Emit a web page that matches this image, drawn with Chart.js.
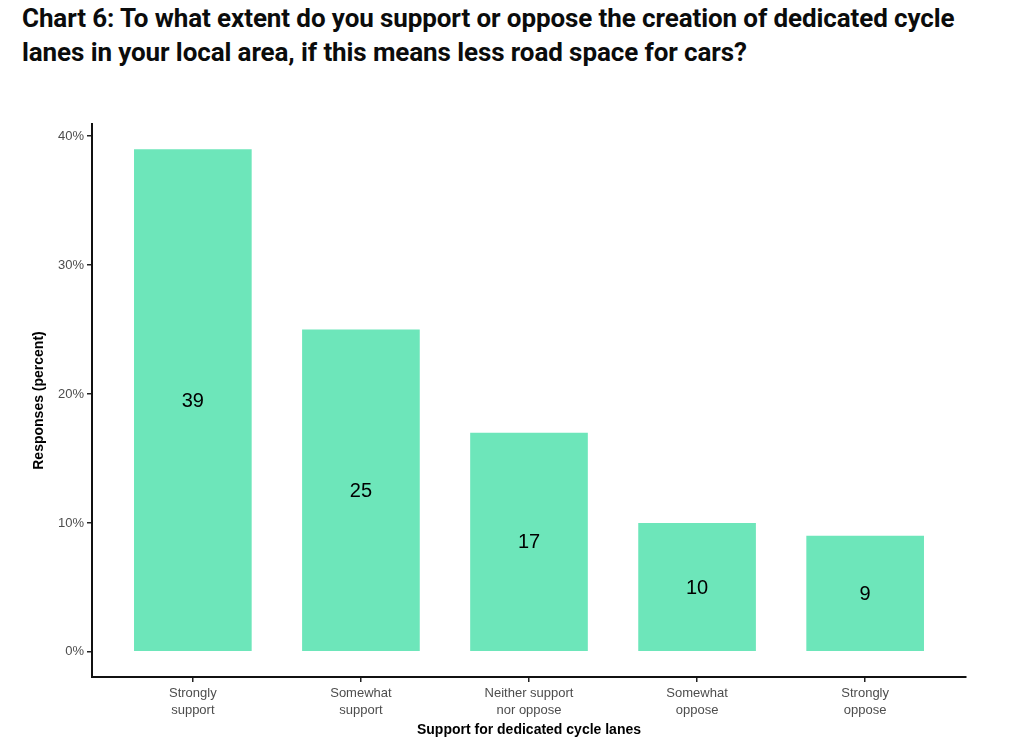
<!DOCTYPE html>
<html>
<head>
<meta charset="utf-8">
<script src="https://cdn.jsdelivr.net/npm/chart.js@4.4.0/dist/chart.umd.min.js"></script>
<style>
  html, body { margin: 0; padding: 0; background: #fff; }
  #wrap { position: relative; width: 1024px; height: 748px; }
  #judul {
    position: absolute; left: 22px; top: 1px; margin: 0;
    font-family: Roboto, sans-serif; font-weight: 700; font-size: 26px;
    line-height: 34px; color: #0b0c0c; letter-spacing: -0.1px;
  }
  canvas { position: absolute; left: 0; top: 0; }
</style>
</head>
<body>
<div id="wrap">
  <h2 id="judul">Chart 6: To what extent do you support or oppose the creation of dedicated cycle<br>lanes in your local area, if this means less road space for cars?</h2>
  <canvas id="chart" width="1024" height="748"></canvas>
</div>
<script>
// Data
const kategori = [
  ['Strongly', 'support'],
  ['Somewhat', 'support'],
  ['Neither support', 'nor oppose'],
  ['Somewhat', 'oppose'],
  ['Strongly', 'oppose']
];
const persen = [39, 25, 17, 10, 9];
const tickY = [0, 10, 20, 30, 40];

const WARNA_BAR = '#6de6ba';
const WARNA_TEKS = '#4d4d4d';
const FONT = '"Liberation Sans", Arial, sans-serif';

// label angka di tengah batang
const labelTengah = {
  id: 'labelTengah',
  afterDatasetsDraw(chart) {
    const ctx = chart.ctx;
    const meta = chart.getDatasetMeta(0);
    ctx.save();
    ctx.font = '20px ' + FONT;
    ctx.fillStyle = '#000';
    ctx.textAlign = 'center';
    ctx.textBaseline = 'middle';
    meta.data.forEach((bar, i) => {
      ctx.fillText(String(persen[i]), bar.x, (bar.y + bar.base) / 2 + 1);
    });
    ctx.restore();
  }
};

new Chart(document.getElementById('chart'), {
  type: 'bar',
  data: {
    datasets: [{
      data: persen.map((v, i) => ({ x: i, y: v })),
      backgroundColor: WARNA_BAR,
      borderWidth: 0,
      barPercentage: 0.7,
      categoryPercentage: 1.0
    }]
  },
  options: {
    responsive: false,
    animation: false,
    layout: { padding: { top: 124, right: 58, left: 0, bottom: 0 } },
    plugins: { legend: { display: false }, tooltip: { enabled: false } },
    scales: {
      x: {
        type: 'linear',
        offset: false,
        min: -0.6,
        max: 4.6,
        afterBuildTicks: s => { s.ticks = kategori.map((_, i) => ({ value: i })); },
        afterFit: s => { s.height = 71; },
        ticks: {
          callback: v => kategori[v],
          color: WARNA_TEKS,
          font: { family: FONT, size: 13, lineHeight: 1.3 },
          padding: 3,
          maxRotation: 0,
          autoSkip: false
        },
        grid: { display: true, offset: false, drawOnChartArea: false, tickLength: 5, color: '#222', lineWidth: 1.5 },
        border: { display: true, color: '#111', width: 2 },
        title: {
          display: true,
          text: 'Support for dedicated cycle lanes',
          color: '#000',
          font: { family: FONT, size: 14, weight: 'bold' },
          padding: 9
        }
      },
      y: {
        min: -1.95,
        max: 40.95,
        afterBuildTicks: s => { s.ticks = tickY.map(v => ({ value: v })); },
        afterFit: s => { s.width = 92; },
        ticks: {
          callback: v => v + '%',
          color: WARNA_TEKS,
          font: { family: FONT, size: 13 },
          padding: 3
        },
        grid: { display: true, drawOnChartArea: false, tickLength: 5, color: '#222', lineWidth: 1.5 },
        border: { display: true, color: '#111', width: 2 },
        title: {
          display: true,
          text: 'Responses (percent)',
          color: '#000',
          font: { family: FONT, size: 14, weight: 'bold' },
          padding: 31
        }
      }
    }
  },
  plugins: [labelTengah]
});
</script>
</body>
</html>
